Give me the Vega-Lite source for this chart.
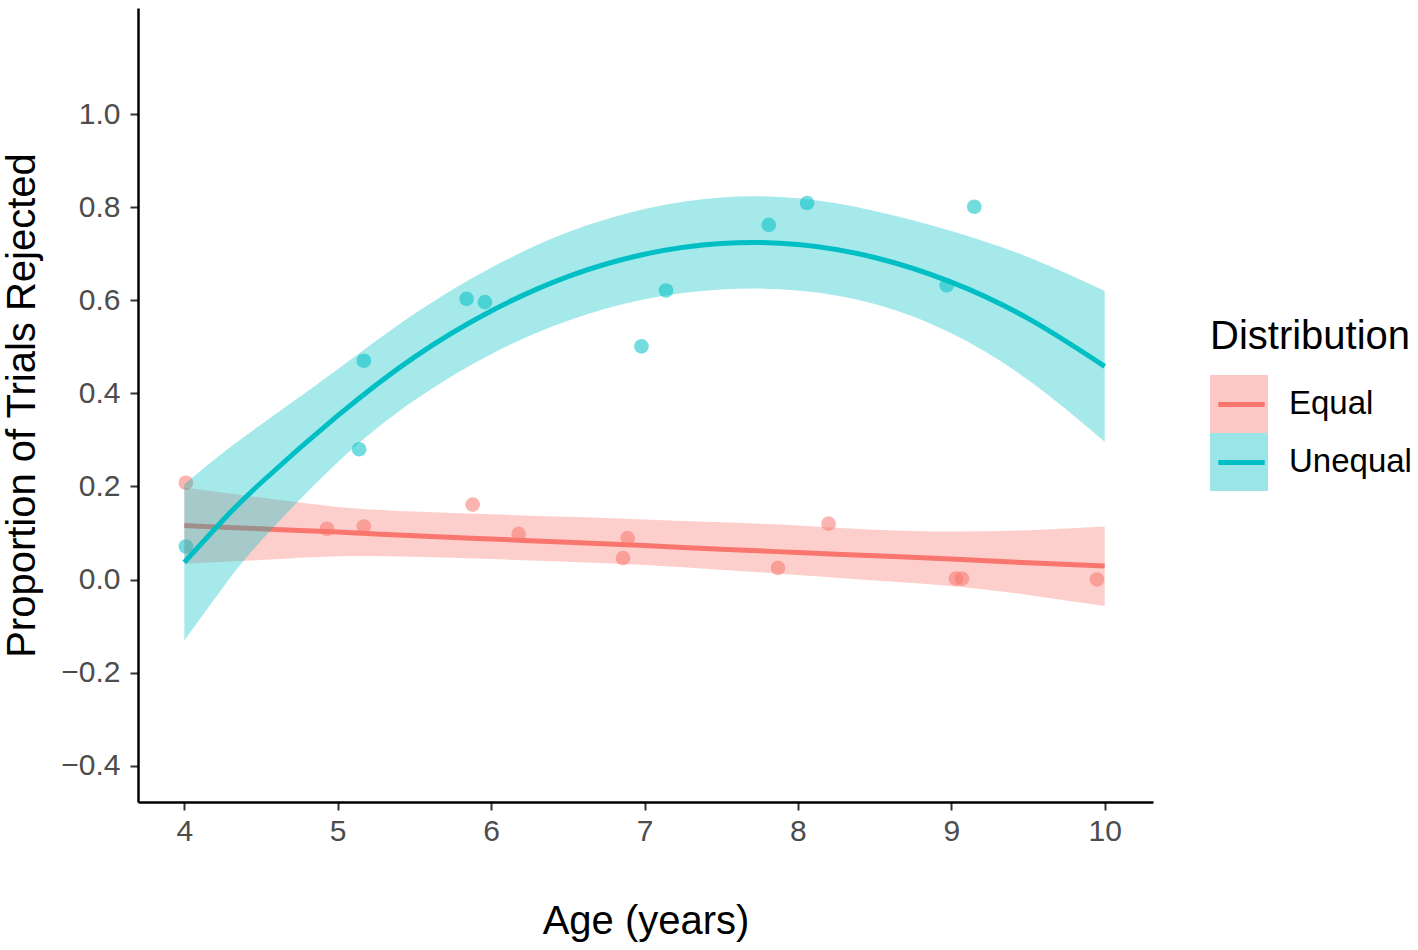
{
  "$schema": "https://vega.github.io/schema/vega-lite/v6.json",
  "width": 1015,
  "height": 794,
  "autosize": {"type": "none"},
  "padding": {"left": 138, "top": 8, "right": 265, "bottom": 148},
  "background": "white",
  "config": {
    "view": {"stroke": null},
    "font": "Liberation Sans",
    "axis": {
      "grid": false,
      "domainColor": "black",
      "domainWidth": 2.5,
      "tickColor": "#333333",
      "tickWidth": 2,
      "tickSize": 8,
      "labelColor": "#4D4D4D",
      "labelFont": "Liberation Sans",
      "labelFontSize": 30,
      "labelFlush": false,
      "titleFont": "Liberation Sans",
      "titleFontSize": 40,
      "titleFontWeight": "normal",
      "titleColor": "black"
    }
  },
  "datasets": {
    "points": [
      {"age": 4.01, "prop": 0.208, "Distribution": "Equal"},
      {"age": 4.93, "prop": 0.109, "Distribution": "Equal"},
      {"age": 5.17, "prop": 0.114, "Distribution": "Equal"},
      {"age": 5.88, "prop": 0.161, "Distribution": "Equal"},
      {"age": 6.18, "prop": 0.098, "Distribution": "Equal"},
      {"age": 6.86, "prop": 0.046, "Distribution": "Equal"},
      {"age": 6.89, "prop": 0.089, "Distribution": "Equal"},
      {"age": 7.87, "prop": 0.025, "Distribution": "Equal"},
      {"age": 8.2, "prop": 0.12, "Distribution": "Equal"},
      {"age": 9.03, "prop": 0.002, "Distribution": "Equal"},
      {"age": 9.07, "prop": 0.002, "Distribution": "Equal"},
      {"age": 9.95, "prop": 0.0, "Distribution": "Equal"},
      {"age": 4.01, "prop": 0.071, "Distribution": "Unequal"},
      {"age": 5.14, "prop": 0.28, "Distribution": "Unequal"},
      {"age": 5.17, "prop": 0.47, "Distribution": "Unequal"},
      {"age": 5.84, "prop": 0.603, "Distribution": "Unequal"},
      {"age": 5.96, "prop": 0.596, "Distribution": "Unequal"},
      {"age": 6.98, "prop": 0.501, "Distribution": "Unequal"},
      {"age": 7.14, "prop": 0.621, "Distribution": "Unequal"},
      {"age": 7.81, "prop": 0.762, "Distribution": "Unequal"},
      {"age": 8.06, "prop": 0.809, "Distribution": "Unequal"},
      {"age": 8.97, "prop": 0.632, "Distribution": "Unequal"},
      {"age": 9.15, "prop": 0.801, "Distribution": "Unequal"}
    ],
    "fits": [
      {"age": 4.0, "fit": 0.116, "lower": 0.034, "upper": 0.198, "Distribution": "Equal"},
      {"age": 4.5, "fit": 0.109, "lower": 0.042, "upper": 0.176, "Distribution": "Equal"},
      {"age": 5.0, "fit": 0.102, "lower": 0.05, "upper": 0.156, "Distribution": "Equal"},
      {"age": 5.5, "fit": 0.094, "lower": 0.049, "upper": 0.146, "Distribution": "Equal"},
      {"age": 6.0, "fit": 0.087, "lower": 0.044, "upper": 0.14, "Distribution": "Equal"},
      {"age": 6.5, "fit": 0.08, "lower": 0.038, "upper": 0.135, "Distribution": "Equal"},
      {"age": 7.0, "fit": 0.073, "lower": 0.031, "upper": 0.129, "Distribution": "Equal"},
      {"age": 7.5, "fit": 0.065, "lower": 0.021, "upper": 0.123, "Distribution": "Equal"},
      {"age": 8.0, "fit": 0.058, "lower": 0.01, "upper": 0.116, "Distribution": "Equal"},
      {"age": 8.5, "fit": 0.051, "lower": -0.002, "upper": 0.107, "Distribution": "Equal"},
      {"age": 9.0, "fit": 0.044, "lower": -0.014, "upper": 0.103, "Distribution": "Equal"},
      {"age": 9.5, "fit": 0.036, "lower": -0.033, "upper": 0.106, "Distribution": "Equal"},
      {"age": 10.0, "fit": 0.029, "lower": -0.057, "upper": 0.114, "Distribution": "Equal"},
      {"age": 4.0, "fit": 0.037, "lower": -0.131, "upper": 0.205, "Distribution": "Unequal"},
      {"age": 4.25, "fit": 0.127, "lower": -0.018, "upper": 0.272, "Distribution": "Unequal"},
      {"age": 4.5, "fit": 0.208, "lower": 0.083, "upper": 0.333, "Distribution": "Unequal"},
      {"age": 5.0, "fit": 0.352, "lower": 0.252, "upper": 0.452, "Distribution": "Unequal"},
      {"age": 5.5, "fit": 0.478, "lower": 0.385, "upper": 0.571, "Distribution": "Unequal"},
      {"age": 6.0, "fit": 0.577, "lower": 0.484, "upper": 0.67, "Distribution": "Unequal"},
      {"age": 6.5, "fit": 0.651, "lower": 0.556, "upper": 0.746, "Distribution": "Unequal"},
      {"age": 7.0, "fit": 0.699, "lower": 0.602, "upper": 0.796, "Distribution": "Unequal"},
      {"age": 7.5, "fit": 0.722, "lower": 0.623, "upper": 0.821, "Distribution": "Unequal"},
      {"age": 8.0, "fit": 0.72, "lower": 0.621, "upper": 0.819, "Distribution": "Unequal"},
      {"age": 8.5, "fit": 0.692, "lower": 0.592, "upper": 0.792, "Distribution": "Unequal"},
      {"age": 9.0, "fit": 0.639, "lower": 0.529, "upper": 0.749, "Distribution": "Unequal"},
      {"age": 9.5, "fit": 0.561, "lower": 0.429, "upper": 0.693, "Distribution": "Unequal"},
      {"age": 10.0, "fit": 0.458, "lower": 0.296, "upper": 0.62, "Distribution": "Unequal"}
    ]
  },
  "layer": [
    {
      "data": {"name": "points"},
      "mark": {"type": "circle", "size": 215, "opacity": 0.55},
      "encoding": {
        "x": {
          "field": "age",
          "type": "quantitative",
          "scale": {"domain": [3.698, 10.315], "nice": false, "zero": false},
          "axis": {"title": "Age (years)", "values": [4, 5, 6, 7, 8, 9, 10], "format": "d", "labelPadding": 6, "titlePadding": 55}
        },
        "y": {
          "field": "prop",
          "type": "quantitative",
          "scale": {"domain": [-0.478, 1.228], "nice": false, "zero": false},
          "axis": {"title": "Proportion of Trials Rejected", "values": [-0.4, -0.2, 0, 0.2, 0.4, 0.6, 0.8, 1.0], "format": ".1f", "labelPadding": 10, "titlePadding": 18}
        },
        "color": {
          "field": "Distribution",
          "type": "nominal",
          "scale": {"domain": ["Equal", "Unequal"], "range": ["#F8766D", "#00BFC4"]},
          "legend": {
            "orient": "none", "legendX": 1072, "legendY": 309, "padding": 0,
            "title": "Distribution", "titleFontSize": 40, "titleLimit": 500, "titleColor": "black", "titleFontWeight": "normal", "titlePadding": 18,
            "labelFontSize": 33, "labelColor": "black", "labelOffset": 21,
            "symbolType": "square", "symbolSize": 3364, "symbolOpacity": 0.4, "symbolStrokeWidth": 0, "rowPadding": 0
          }
        }
      }
    },
    {
      "data": {"name": "fits"},
      "transform": [{"filter": "datum.Distribution == 'Equal'"}],
      "mark": {"type": "area", "opacity": 0.35, "interpolate": "natural"},
      "encoding": {
        "x": {"field": "age", "type": "quantitative"},
        "y": {"field": "lower", "type": "quantitative"},
        "y2": {"field": "upper"},
        "fill": {
          "field": "Distribution",
          "type": "nominal",
          "scale": {"domain": ["Equal", "Unequal"], "range": ["#F8766D", "#00BFC4"]},
          "legend": null
        }
      }
    },
    {
      "data": {"name": "fits"},
      "transform": [{"filter": "datum.Distribution == 'Equal'"}],
      "mark": {"type": "line", "strokeWidth": 5, "interpolate": "natural"},
      "encoding": {
        "x": {"field": "age", "type": "quantitative"},
        "y": {"field": "fit", "type": "quantitative"},
        "stroke": {
          "field": "Distribution",
          "type": "nominal",
          "scale": {"range": ["#F8766D", "#00BFC4"]},
          "legend": {
            "orient": "none", "legendX": 1072, "legendY": 365, "padding": 0,
            "title": null, "labelExpr": "''", "labelFontSize": 33, "labelOffset": 21,
            "symbolType": "M-0.8,0H0.8", "symbolSize": 3364, "symbolStrokeWidth": 5, "rowPadding": 9
          }
        }
      }
    },
    {
      "data": {"name": "fits"},
      "transform": [{"filter": "datum.Distribution == 'Unequal'"}],
      "mark": {"type": "area", "opacity": 0.35, "interpolate": "natural"},
      "encoding": {
        "x": {"field": "age", "type": "quantitative"},
        "y": {"field": "lower", "type": "quantitative"},
        "y2": {"field": "upper"},
        "fill": {"field": "Distribution", "type": "nominal", "legend": null}
      }
    },
    {
      "data": {"name": "fits"},
      "transform": [{"filter": "datum.Distribution == 'Unequal'"}],
      "mark": {"type": "line", "strokeWidth": 5, "interpolate": "natural"},
      "encoding": {
        "x": {"field": "age", "type": "quantitative"},
        "y": {"field": "fit", "type": "quantitative"},
        "stroke": {"field": "Distribution", "type": "nominal"}
      }
    }
  ]
}
